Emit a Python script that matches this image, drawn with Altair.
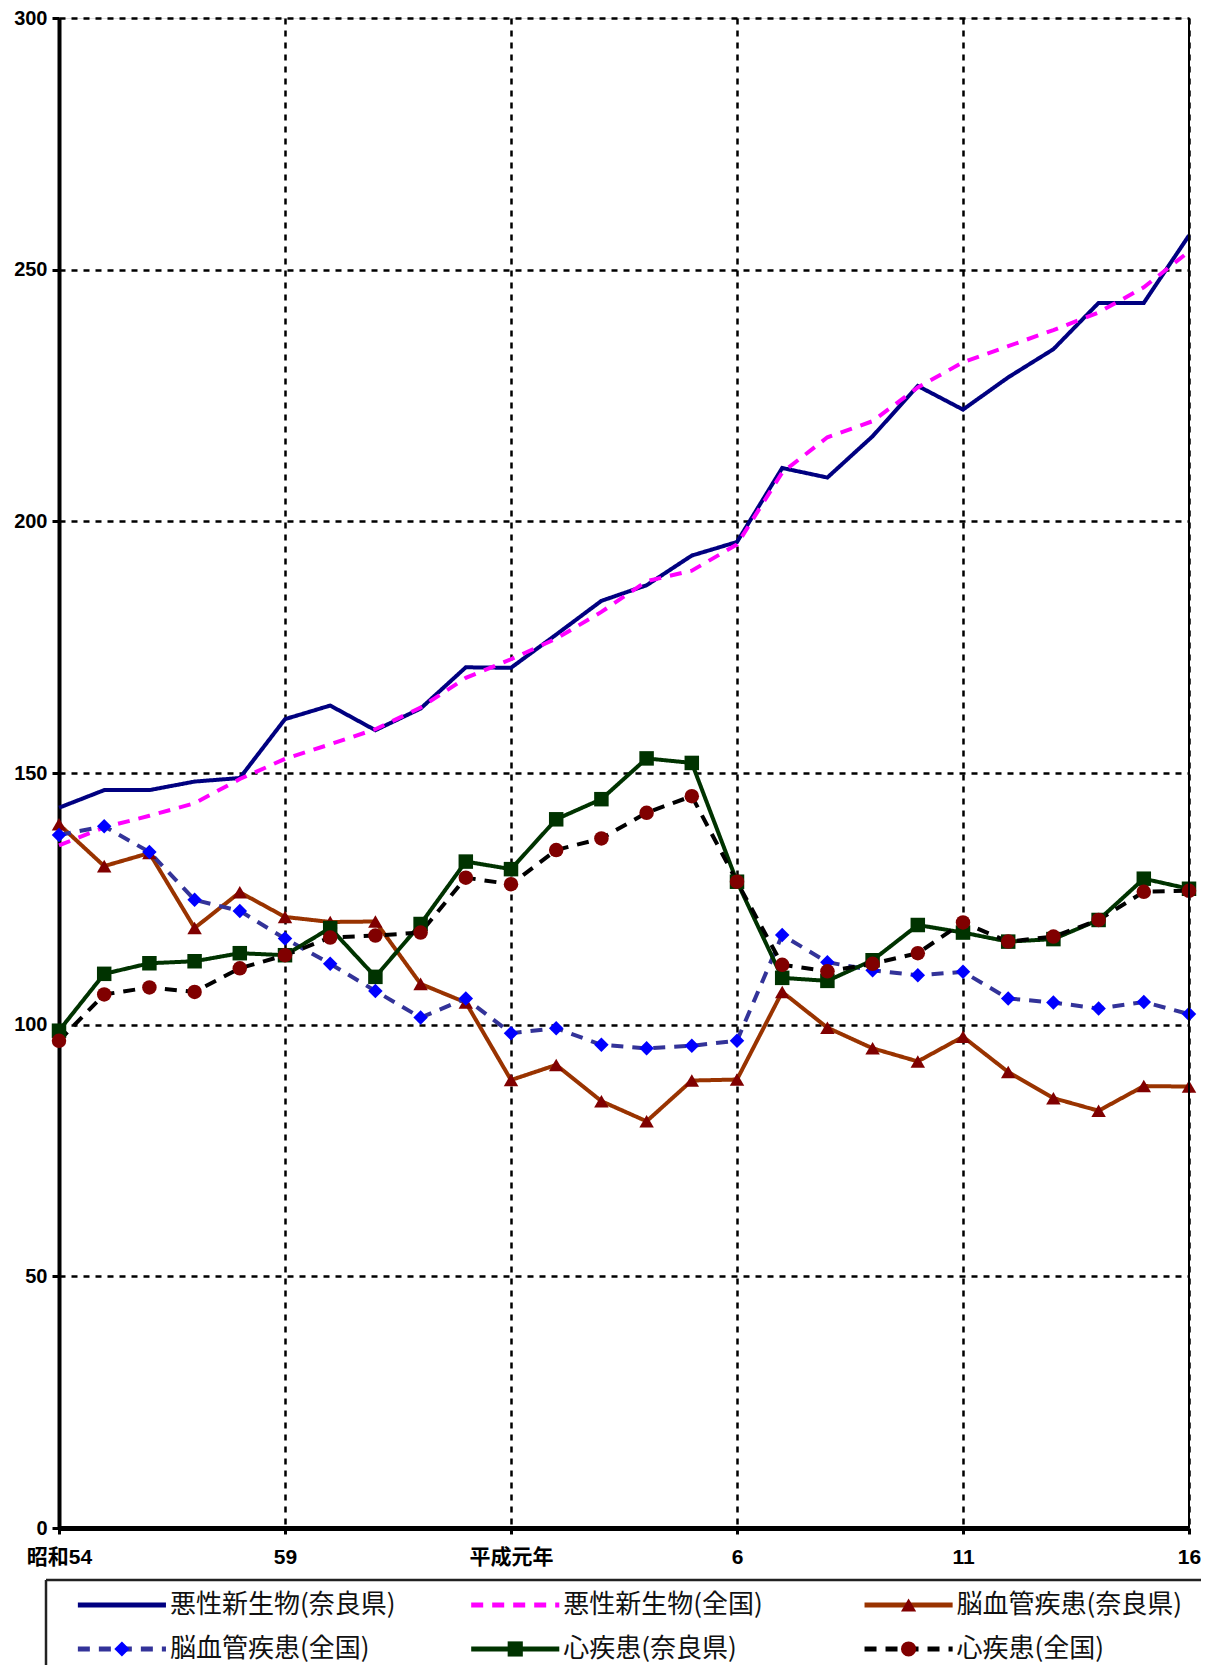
import altair as alt
import pandas as pd

# ---- data ----
years = ['昭和54', '55', '56', '57', '58', '59', '60', '61', '62', '63',
         '平成元年', '2', '3', '4', '5', '6', '7', '8', '9', '10',
         '11', '12', '13', '14', '15', '16']
tick_index = [0, 5, 10, 15, 20, 25]
tick_labels = ['昭和54', '59', '平成元年', '6', '11', '16']

series_names = ['悪性新生物(奈良県)', '悪性新生物(全国)', '脳血管疾患(奈良県)',
                '脳血管疾患(全国)', '心疾患(奈良県)', '心疾患(全国)']

nara_cancer = [143.1, 146.6, 146.6, 148.3, 149.0, 160.7, 163.4, 158.5, 162.8, 171.0,
               170.9, 177.5, 184.2, 187.3, 193.2, 195.9, 210.6, 208.7, 216.9, 226.9,
               222.2, 228.6, 234.2, 243.4, 243.4, 256.8]
japan_cancer = [135.6, 139.2, 141.5, 144.0, 148.8, 152.8, 155.7, 158.7, 163.0, 168.9,
                172.6, 176.7, 182.0, 188.1, 190.2, 195.4, 209.7, 216.7, 219.9, 226.6,
                231.6, 234.8, 238.0, 241.5, 246.5, 253.6]
nara_cereb = [139.8, 131.5, 134.1, 119.2, 126.3, 121.4, 120.4, 120.5, 108.1, 104.4,
              89.0, 92.0, 84.8, 80.8, 88.9, 89.1, 106.5, 99.4, 95.3, 92.7,
              97.6, 90.6, 85.4, 82.9, 87.8, 87.7]
japan_cereb = [137.7, 139.4, 134.3, 124.8, 122.6, 117.1, 112.1, 106.7, 101.4, 105.2,
               98.3, 99.3, 96.0, 95.3, 95.8, 96.8, 117.8, 112.4, 110.8, 109.8,
               110.5, 105.2, 104.4, 103.2, 104.5, 102.1]
nara_heart = [98.8, 110.1, 112.2, 112.6, 114.2, 113.8, 119.2, 109.5, 120.0, 132.4,
              130.9, 140.8, 144.8, 152.9, 152.0, 128.4, 109.3, 108.7, 112.8, 119.8,
              118.3, 116.5, 117.0, 120.8, 129.0, 127.0]
japan_heart = [96.8, 106.0, 107.4, 106.5, 111.2, 113.8, 117.3, 117.7, 118.3, 129.2,
               127.9, 134.7, 137.0, 142.1, 145.4, 128.4, 111.9, 110.6, 112.1, 114.2,
               120.3, 116.5, 117.5, 120.8, 126.4, 126.6]

legend_cols = [0, 1, 2, 0, 1, 2]
legend_rows = [0, 0, 0, 1, 1, 1]

# ---- styles ----
line_colors = ['#000080', '#FF00FF', '#993300', '#333399', '#003300', '#000000']
dashes = [[1, 0], [12, 9], [1, 0], [12, 9], [1, 0], [12, 9]]
marker_series = series_names[2:]
marker_shapes = ['triangle-up', 'diamond', 'square', 'circle']
marker_fills = ['#800000', '#0000FF', '#003300', '#800000']

all_values = [nara_cancer, japan_cancer, nara_cereb, japan_cereb, nara_heart, japan_heart]
rows = []
for s, vals in zip(series_names, all_values):
    for i, (yr, v) in enumerate(zip(years, vals)):
        rows.append({'series': s, 'idx': i, 'year': yr, 'value': v})
df = pd.DataFrame(rows)

stroke_scale = alt.Scale(domain=series_names, range=line_colors)
dash_scale = alt.Scale(domain=series_names, range=dashes)
shape_scale = alt.Scale(domain=marker_series, range=marker_shapes)
fill_scale = alt.Scale(domain=marker_series, range=marker_fills)

label_font = 'Liberation Sans, Noto Sans CJK JP'
lab_js = '[' + ','.join("'" + t + "'" for t in tick_labels) + ']'
idx_js = '[' + ','.join(str(t) for t in tick_index) + ']'

PLOT_W, PLOT_H = 1130, 1510

x_enc = alt.X('idx:Q', scale=alt.Scale(domain=[0, len(years) - 1], nice=False, zero=False),
              axis=alt.Axis(values=tick_index,
                            labelExpr=lab_js + '[indexof(' + idx_js + ', datum.value)]',
                            grid=True, gridDash=[6, 6], gridColor='black', gridWidth=2.5,
                            gridOpacity=1, ticks=True, tickSize=6, tickWidth=3,
                            tickColor='black', domainWidth=5, domainColor='black',
                            labelFont=label_font, labelFontSize=21, labelFontWeight='bold',
                            labelColor='black', labelPadding=12, labelFlush=False,
                            labelOverlap=False, labelAngle=0, title=None))
y_enc = alt.Y('value:Q', scale=alt.Scale(domain=[0, 300], nice=False),
              axis=alt.Axis(values=list(range(0, 301, 50)), grid=True, gridDash=[6, 6],
                            gridColor='black', gridWidth=2.5, gridOpacity=1,
                            tickSize=7, tickWidth=3, tickColor='black',
                            domainWidth=4, domainColor='black',
                            labelFont=label_font, labelFontSize=20, labelFontWeight='bold',
                            labelColor='black', labelPadding=5, title=None))

base = alt.Chart(df)
lines = base.mark_line(strokeWidth=4).encode(
    x=x_enc, y=y_enc,
    stroke=alt.Stroke('series:N', scale=stroke_scale, legend=None),
    strokeDash=alt.StrokeDash('series:N', scale=dash_scale, legend=None),
)
points = base.transform_filter(
    alt.FieldOneOfPredicate(field='series', oneOf=marker_series)
).mark_point(filled=True, size=210, opacity=1).encode(
    x=x_enc, y=y_enc,
    shape=alt.Shape('series:N', scale=shape_scale, legend=None),
    fill=alt.Fill('series:N', scale=fill_scale, legend=None),
)
edge = alt.Chart(pd.DataFrame({'idx': [len(years) - 1]})).mark_rule(
    color='black', strokeWidth=2).encode(x='idx:Q')

main = alt.layer(lines, points, edge)

# ---- legend (drawn below the plot with its own scales) ----
leg_df = pd.DataFrame({'series': series_names, 'col': legend_cols, 'row': legend_rows})
lbase = alt.Chart(leg_df).transform_calculate(
    x1='datum.col + 0.081', x2='datum.col + 0.305', xm='datum.col + 0.193',
    xt='datum.col + 0.315', yr='0.298 + 0.523 * datum.row')
lx_scale = alt.Scale(domain=[0, 3], range=[-13, 1167], nice=False, zero=False)
ly_scale = alt.Scale(domain=[0, 1], range=[PLOT_H + 52, PLOT_H + 136], nice=False, zero=False)
ly = alt.Y('yr:Q', scale=ly_scale, axis=None)
lrule = lbase.mark_rule(strokeWidth=5).encode(
    x=alt.X('x1:Q', scale=lx_scale, axis=None), x2='x2:Q', y=ly,
    stroke=alt.Stroke('series:N', scale=stroke_scale, legend=None),
    strokeDash=alt.StrokeDash('series:N', scale=dash_scale, legend=None),
)
lpts = lbase.transform_filter(
    alt.FieldOneOfPredicate(field='series', oneOf=marker_series)
).mark_point(filled=True, size=230, opacity=1).encode(
    x=alt.X('xm:Q', scale=lx_scale, axis=None), y=ly,
    shape=alt.Shape('series:N', scale=shape_scale, legend=None),
    fill=alt.Fill('series:N', scale=fill_scale, legend=None),
)
ltxt = lbase.mark_text(align='left', baseline='middle', fontSize=26,
                       font='Noto Sans CJK JP', color='#111111').encode(
    x=alt.X('xt:Q', scale=lx_scale, axis=None), y=ly, text='series:N')

box_df = pd.DataFrame({'x0': [0], 'x1': [3], 'y0': [0], 'y1': [1.2]})
box_top = alt.Chart(box_df).mark_rule(color='#222222', strokeWidth=2.5).encode(
    x=alt.X('x0:Q', scale=lx_scale, axis=None), x2='x1:Q',
    y=alt.Y('y0:Q', scale=ly_scale, axis=None))
box_left = alt.Chart(box_df).mark_rule(color='#222222', strokeWidth=2.5).encode(
    x=alt.X('x0:Q', scale=lx_scale, axis=None),
    y=alt.Y('y0:Q', scale=ly_scale, axis=None), y2='y1:Q')

legend = alt.layer(box_top, box_left, lrule, lpts, ltxt)

chart = alt.layer(main, legend).resolve_scale(
    x='independent', y='independent'
).properties(
    width=PLOT_W, height=PLOT_H,
    autosize=alt.AutoSizeParams(type='none'),
    padding={'left': 51, 'top': 10, 'right': 12, 'bottom': 137},
).configure_view(stroke='transparent').configure(background='white')

chart.save('out.html', embed_options={'renderer': 'svg', 'actions': False})
